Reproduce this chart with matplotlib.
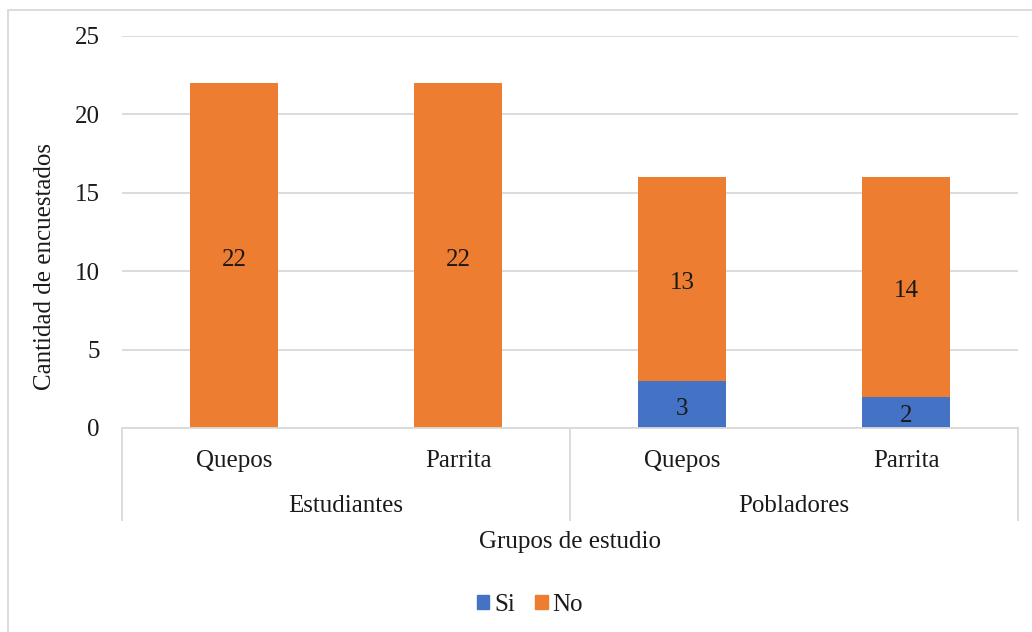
import matplotlib.pyplot as plt
from matplotlib.patches import Patch, Rectangle

# survey answers per town, grouped by study group
towns = ["Quepos", "Parrita", "Quepos", "Parrita"]
groups = ["Estudiantes", "Pobladores"]
si_counts = [0, 0, 3, 2]
no_counts = [22, 22, 13, 14]

blue = '#4472C4'
orange = '#ED7D31'
grid_gray = '#D9D9D9'
text_col = '#1a1a1a'

plt.rcParams['font.family'] = ['Liberation Serif', 'DejaVu Serif']
fs = 18

fig = plt.figure(figsize=(10.32, 6.32), dpi=100)
ax = fig.add_axes([122 / 1032, 204 / 632, 896 / 1032, 392 / 632])

x = list(range(len(towns)))
bw = 0.39
ax.bar(x, si_counts, width=bw, color=blue, zorder=3)
ax.bar(x, no_counts, width=bw, bottom=si_counts, color=orange, zorder=3)

# value labels in the middle of each segment
def seg_label(xi, yc, val):
    ax.annotate(str(val), (xi, yc), xytext=(0, -3), textcoords='offset points',
                ha='center', va='center', fontsize=fs, color=text_col, zorder=4)

for i in x:
    if si_counts[i] > 0:
        seg_label(i, si_counts[i] / 2, si_counts[i])
    seg_label(i, si_counts[i] + no_counts[i] / 2, no_counts[i])

ax.set_xlim(-0.5, 3.5)
ax.set_ylim(0, 25)
ax.set_yticks([0, 5, 10, 15, 20, 25])
ax.yaxis.grid(True, color=grid_gray, lw=1.3, zorder=0)
ax.tick_params(axis='y', length=0, pad=16, labelsize=fs, labelcolor=text_col)
ax.set_xticks(x)
ax.set_xticklabels(towns)
ax.tick_params(axis='x', length=0, pad=16, labelsize=fs, labelcolor=text_col)
for s in ['top', 'right', 'left']:
    ax.spines[s].set_visible(False)
ax.spines['bottom'].set_color(grid_gray)
ax.spines['bottom'].set_linewidth(1.3)
ax.spines['bottom'].set_zorder(5)

# group labels and separators under the category axis
sep_depth = -92 / 392
trans = ax.get_xaxis_transform()
for sx in [-0.5, 1.5, 3.5]:
    ax.plot([sx, sx], [0, sep_depth], transform=trans, color=grid_gray,
            lw=1.3, clip_on=False)
for gi, g in enumerate(groups):
    ax.text(gi * 2 + 0.5, -78 / 392, g, transform=trans, ha='center',
            va='center', fontsize=fs, color=text_col)

fig.text(45 / 1032, 1 - 266 / 632, "Cantidad de encuestados", rotation=90,
         ha='center', va='center', fontsize=fs, color=text_col)
fig.text(570 / 1032, 1 - 542 / 632, "Grupos de estudio", ha='center',
         va='center', fontsize=fs, color=text_col)

handles = [Patch(color=blue, label='Si'), Patch(color=orange, label='No')]
fig.legend(handles=handles, loc='center', bbox_to_anchor=(530 / 1032, 1 - 605 / 632),
           ncol=2, frameon=False, fontsize=fs, handlelength=0.5, handleheight=0.5,
           handletextpad=0.2, columnspacing=0.8, labelcolor=text_col)

# chart border
fig.patches.append(Rectangle((8 / 1032, -0.05), 1.1, 1.05 - 10 / 632,
                             transform=fig.transFigure, fill=False,
                             edgecolor=grid_gray, lw=1.3))

fig.savefig('out.png', dpi=100)
